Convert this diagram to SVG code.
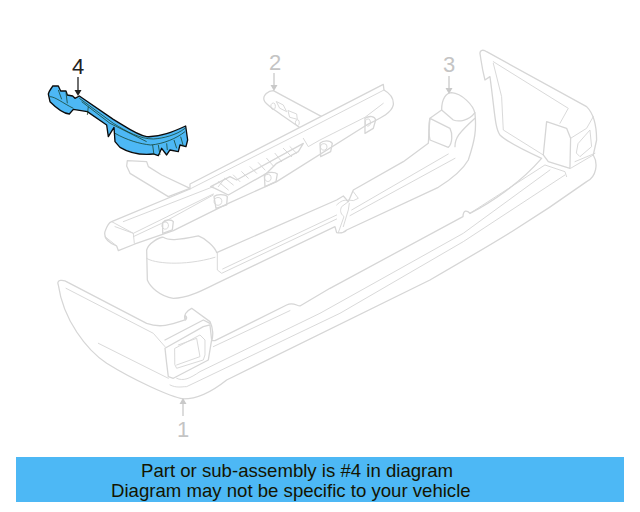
<svg xmlns="http://www.w3.org/2000/svg" width="640" height="512" viewBox="0 0 640 512">
<style>
.g{fill:none;stroke:#d6d6d6;stroke-width:3.9;stroke-linejoin:round;stroke-linecap:round}
.t{stroke-width:2.8}
.b{fill:#4db8f5;stroke:#0c0c0c;stroke-width:4;stroke-linejoin:round}
.l{fill:none;stroke:#123a20;stroke-width:2.2}
.n{font-family:"Liberation Sans",Arial,sans-serif;font-size:22px;text-anchor:middle}
.a{stroke-width:1.3;fill:none}
.m{font-family:"Liberation Sans",Arial,sans-serif;font-size:18.600px;fill:#141400}
</style>
<rect width="640" height="512" fill="#fff"/>
<g id="part1">
<g transform="scale(.3333)" class="g">
<path fill="#fff" d="M175 855C168 838 190 838 205 848L440 970C480 985 510 975 555 960C553 945 555 935 575 925L630 965C640 985 640 1010 635 1022L645 1022L860 915C880 905 890 918 900 918L990 865L1389 650C1390 630 1400 630 1410 640C1470 610 1560 550 1625 475C1570 450 1520 425 1500 405C1485 385 1485 340 1470 230L1455 240C1445 200 1445 190 1440 160C1440 150 1450 148 1460 155L1760 320C1780 340 1790 380 1790 420L1780 465C1795 490 1790 530 1760 545C1600 660 1480 730 1290 840L680 1140C630 1180 590 1197 550 1197C510 1190 400 1140 320 1090C260 1050 190 960 175 855Z"/>
<path class="t" d="M198 865L460 1000L495 1040M295 1030L505 1135"/>
<path d="M495 1045L610 980L630 975L635 1020L625 1080L520 1135L505 1130L500 1090ZM557 960C565 950 550 940 555 955M495 1020L610 960L630 970"/>
<path class="t" d="M525 1045L600 1005L615 1020L615 1065L610 1080L530 1105L525 1095Z"/>
<path class="t" d="M535 1035L590 1015L600 1070L530 1095"/>
<path class="t" d="M510 1155C530 1165 545 1160 560 1160L1020 940L1390 725L1695 525M530 1135C550 1145 570 1135 600 1115L960 940L1390 700L1650 510M640 1040L870 932M1410 640L1635 495L1695 515L1700 530"/>
<path d="M1640 365L1630 465L1645 485L1710 505L1712 415L1700 385Z"/>
<path class="t" d="M1480 190L1505 290L1510 390L1630 465M1480 185L1705 325L1680 370M1712 415L1760 385L1780 350M1725 485L1785 460M1712 505L1780 465M1735 430L1770 390L1775 440L1740 470L1730 460Z"/>
</g>
</g>
<g id="part3" transform="translate(140 50) scale(.3333)" class="g">
<path fill="#fff" d="M20 600C25 580 60 560 70 562C85 572 110 572 175 558C195 565 225 590 230 608L590 450L610 438L625 455L640 420L790 335L865 280C868 250 865 220 870 205L905 180C905 145 920 128 935 128C965 130 1000 165 1005 190C1010 240 1005 270 985 330C965 365 930 390 895 412L620 540C610 550 600 550 590 548L585 530L230 700C180 725 140 745 100 745C60 740 30 710 22 690Z"/>
<path class="t" d="M20 625C40 640 130 650 225 622M232 610L232 660L245 670L590 507M248 657L590 495"/>
<path class="t" d="M590 465C600 455 615 445 625 455L605 470C600 480 600 490 612 500L595 548M628 460L625 480L610 530M640 425L655 445L640 452L625 450M635 480L925 312M630 497L945 325"/>
<path d="M870 205L930 235C938 250 938 280 925 292L870 270C865 250 868 225 870 205ZM905 180L940 210C955 215 985 215 1005 188M945 290C945 265 955 250 1005 205"/>
</g>
<g id="part2" transform="translate(90 40) scale(.3333)" class="g">
<path fill="#fff" d="M522 180C518 165 535 152 550 152L705 235L640 270L575 225C550 205 525 195 522 180Z"/>
<path class="t" d="M553 190A7 10 0 1 0 554 191M560 185L580 195L590 215L570 205ZM595 212L620 222L622 238L600 232ZM625 240A6 9 0 1 0 626 241"/>
<path fill="#fff" d="M112 362L170 365L175 380L215 405L300 445L235 470L120 400L110 378Z"/>
<path fill="#fff" d="M45 575C50 560 55 548 65 545L300 447L300 432L880 133L882 150C900 160 912 175 910 195C905 220 870 235 830 255L560 425L415 490L250 572L135 612L85 632L80 618C60 610 40 595 45 575Z"/>
<path class="t" d="M65 545L130 580L133 610M45 590L80 618M100 545L370 440M75 560L130 580L370 462M130 590L215 550L370 465M300 447L640 275L882 150"/>
<path class="t" d="M640 295L655 320L690 300L825 232L880 190"/>
<path d="M362 440L420 410L440 420L640 310L625 335L560 370L530 400L415 465L375 445Z"/>
<path class="t" d="M385 425L415 450M405 415L430 435M430 405L450 425M455 395L475 415M480 380L500 400M505 368L525 390M530 355L550 378M555 340L575 365M580 325L605 350M600 320L620 340M385 440L405 415"/>
<path d="M372 470C380 462 405 462 412 470L410 495L378 505ZM218 548C225 538 245 538 250 545L247 570L218 580ZM523 405C530 395 555 395 562 402L558 425L525 440ZM690 310C700 300 720 300 727 310L722 335L692 350ZM825 235C840 225 855 230 857 240L850 265L825 280Z"/>
<path class="t" d="M392 475A12 12 0 1 0 393 476ZM232 548A10 11 0 1 0 233 549ZM540 405A10 11 0 1 0 541 406ZM708 313A10 10 0 1 0 709 314ZM838 238A8 11 0 1 0 839 239Z"/>
</g>
<g id="part4">
<g transform="translate(30 40) scale(.3333)">
<path class="b" d="M55 162C58 150 65 145 68 138L85 138L92 153L108 153L112 165L128 168L135 175L148 168L250 238C290 262 320 285 350 290C390 292 430 275 467 258L473 300L468 320L450 315L445 335L420 330L410 345L395 325L385 347L370 342C340 345 300 340 270 322L255 305L252 262L235 290L230 255L172 215L130 208L118 222C100 220 85 210 60 185Z"/>
<path class="l" d="M60 170C75 170 100 190 130 205M85 150L95 178M108 158L112 190M148 175L250 250C290 275 330 297 370 297C400 295 440 285 465 265M175 200L172 225M155 185L240 250L350 305M255 280C290 300 330 312 362 315C400 312 440 295 465 275M368 315L372 345M385 315L390 345M410 310L412 330M432 300L440 325M452 290L460 318"/>
</g>
</g>
<g id="connectors">
<path class="a" stroke="#222" d="M78 77V91"/><path fill="#222" d="M74.500 90H81.500L78 96Z"/>
<path class="a" stroke="#c9c9c9" d="M274 73V86"/><path fill="#c9c9c9" d="M270.500 85H277.500L274 91Z"/>
<path class="a" stroke="#c9c9c9" d="M449 76V89"/><path fill="#c9c9c9" d="M445.500 88H452.500L449 94Z"/>
<path class="a" stroke="#c9c9c9" d="M183 416V403"/><path fill="#c9c9c9" d="M179.500 404H186.500L183 398Z"/>
</g>
<g id="labels">
<text class="n" x="78" y="74" fill="#222">4</text>
<text class="n" x="275" y="70" fill="#c4c4c4">2</text>
<text class="n" x="449" y="72" fill="#c4c4c4">3</text>
<text class="n" x="183" y="437" fill="#c4c4c4">1</text>
</g>
<g id="banner">
<rect x="16" y="457" width="608" height="45" fill="#4db8f5"/>
<text class="m" x="141" y="477">Part or sub-assembly is #4 in diagram</text>
<text class="m" x="111" y="497">Diagram may not be specific to your vehicle</text>
</g>
</svg>
